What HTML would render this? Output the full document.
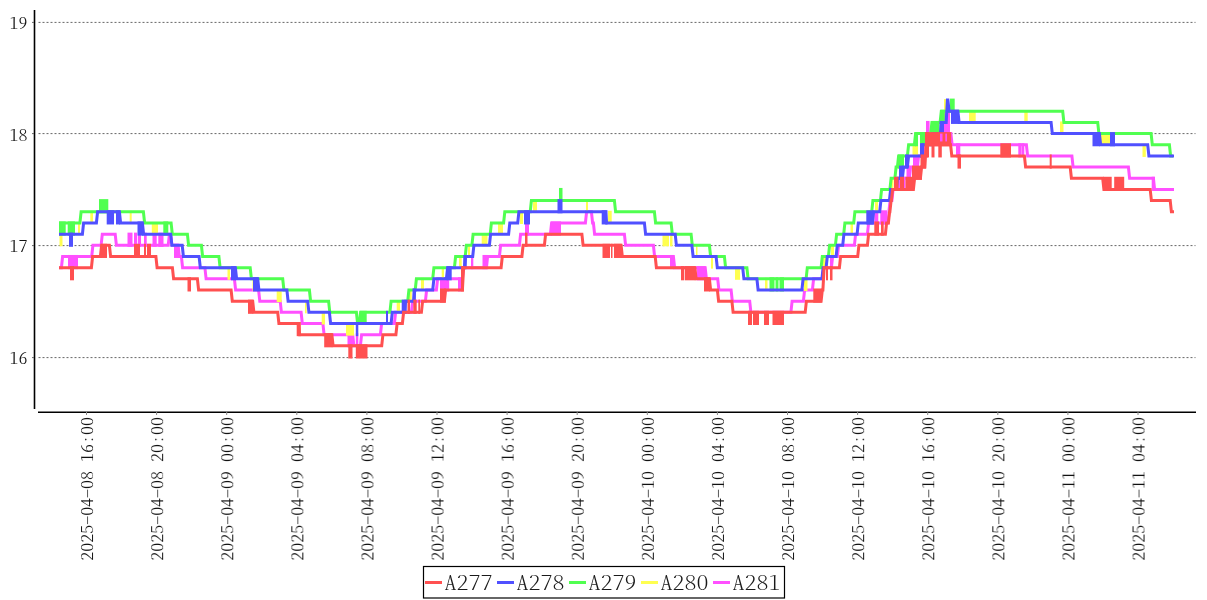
<!DOCTYPE html><html><head><meta charset="utf-8"><style>html,body{margin:0;padding:0;background:#fff;overflow:hidden}svg{display:block}</style></head><body><svg width="1207" height="600" viewBox="0 0 1207 600">
<rect width="1207" height="600" fill="#fff"/>
<line x1="38.5" y1="357.60" x2="1195.5" y2="357.60" stroke="#666" stroke-width="1" stroke-dasharray="2 2"/>
<line x1="38.5" y1="245.60" x2="1195.5" y2="245.60" stroke="#666" stroke-width="1" stroke-dasharray="2 2"/>
<line x1="38.5" y1="133.60" x2="1195.5" y2="133.60" stroke="#666" stroke-width="1" stroke-dasharray="2 2"/>
<line x1="38.5" y1="22.40" x2="1195.5" y2="22.40" stroke="#666" stroke-width="1" stroke-dasharray="2 2"/>
<line x1="34.5" y1="10" x2="34.5" y2="409" stroke="#000" stroke-width="1.6"/>
<line x1="38" y1="412.3" x2="1196" y2="412.3" stroke="#000" stroke-width="1.5"/>
<line x1="32" y1="357.60" x2="34" y2="357.60" stroke="#666" stroke-width="1"/>
<line x1="32" y1="245.60" x2="34" y2="245.60" stroke="#666" stroke-width="1"/>
<line x1="32" y1="133.60" x2="34" y2="133.60" stroke="#666" stroke-width="1"/>
<line x1="32" y1="22.40" x2="34" y2="22.40" stroke="#666" stroke-width="1"/>
<text transform="translate(9.5 363.50) scale(1 0.86)" font-size="18" font-family="Noto Serif CJK SC, Liberation Serif, serif" font-weight="300" fill="#111" style="font-feature-settings:'hwid';will-change:transform">16</text>
<text transform="translate(9.5 251.50) scale(1 0.86)" font-size="18" font-family="Noto Serif CJK SC, Liberation Serif, serif" font-weight="300" fill="#111" style="font-feature-settings:'hwid';will-change:transform">17</text>
<text transform="translate(9.5 140.60) scale(1 0.86)" font-size="18" font-family="Noto Serif CJK SC, Liberation Serif, serif" font-weight="300" fill="#111" style="font-feature-settings:'hwid';will-change:transform">18</text>
<text transform="translate(9.5 28.60) scale(1 0.86)" font-size="18" font-family="Noto Serif CJK SC, Liberation Serif, serif" font-weight="300" fill="#111" style="font-feature-settings:'hwid';will-change:transform">19</text>
<line x1="86.50" y1="411" x2="86.50" y2="415" stroke="#888" stroke-width="1"/>
<text transform="translate(93.10 417) rotate(-90) scale(1 0.86)" text-anchor="end" font-size="18" font-family="Noto Serif CJK SC, Liberation Serif, serif" font-weight="300" fill="#111" style="font-feature-settings:'hwid';will-change:transform">2025-04-08 16:00</text>
<line x1="156.60" y1="411" x2="156.60" y2="415" stroke="#888" stroke-width="1"/>
<text transform="translate(163.20 417) rotate(-90) scale(1 0.86)" text-anchor="end" font-size="18" font-family="Noto Serif CJK SC, Liberation Serif, serif" font-weight="300" fill="#111" style="font-feature-settings:'hwid';will-change:transform">2025-04-08 20:00</text>
<line x1="226.70" y1="411" x2="226.70" y2="415" stroke="#888" stroke-width="1"/>
<text transform="translate(233.30 417) rotate(-90) scale(1 0.86)" text-anchor="end" font-size="18" font-family="Noto Serif CJK SC, Liberation Serif, serif" font-weight="300" fill="#111" style="font-feature-settings:'hwid';will-change:transform">2025-04-09 00:00</text>
<line x1="296.80" y1="411" x2="296.80" y2="415" stroke="#888" stroke-width="1"/>
<text transform="translate(303.40 417) rotate(-90) scale(1 0.86)" text-anchor="end" font-size="18" font-family="Noto Serif CJK SC, Liberation Serif, serif" font-weight="300" fill="#111" style="font-feature-settings:'hwid';will-change:transform">2025-04-09 04:00</text>
<line x1="366.90" y1="411" x2="366.90" y2="415" stroke="#888" stroke-width="1"/>
<text transform="translate(373.50 417) rotate(-90) scale(1 0.86)" text-anchor="end" font-size="18" font-family="Noto Serif CJK SC, Liberation Serif, serif" font-weight="300" fill="#111" style="font-feature-settings:'hwid';will-change:transform">2025-04-09 08:00</text>
<line x1="437.00" y1="411" x2="437.00" y2="415" stroke="#888" stroke-width="1"/>
<text transform="translate(443.60 417) rotate(-90) scale(1 0.86)" text-anchor="end" font-size="18" font-family="Noto Serif CJK SC, Liberation Serif, serif" font-weight="300" fill="#111" style="font-feature-settings:'hwid';will-change:transform">2025-04-09 12:00</text>
<line x1="507.10" y1="411" x2="507.10" y2="415" stroke="#888" stroke-width="1"/>
<text transform="translate(513.70 417) rotate(-90) scale(1 0.86)" text-anchor="end" font-size="18" font-family="Noto Serif CJK SC, Liberation Serif, serif" font-weight="300" fill="#111" style="font-feature-settings:'hwid';will-change:transform">2025-04-09 16:00</text>
<line x1="577.20" y1="411" x2="577.20" y2="415" stroke="#888" stroke-width="1"/>
<text transform="translate(583.80 417) rotate(-90) scale(1 0.86)" text-anchor="end" font-size="18" font-family="Noto Serif CJK SC, Liberation Serif, serif" font-weight="300" fill="#111" style="font-feature-settings:'hwid';will-change:transform">2025-04-09 20:00</text>
<line x1="647.30" y1="411" x2="647.30" y2="415" stroke="#888" stroke-width="1"/>
<text transform="translate(653.90 417) rotate(-90) scale(1 0.86)" text-anchor="end" font-size="18" font-family="Noto Serif CJK SC, Liberation Serif, serif" font-weight="300" fill="#111" style="font-feature-settings:'hwid';will-change:transform">2025-04-10 00:00</text>
<line x1="717.40" y1="411" x2="717.40" y2="415" stroke="#888" stroke-width="1"/>
<text transform="translate(724.00 417) rotate(-90) scale(1 0.86)" text-anchor="end" font-size="18" font-family="Noto Serif CJK SC, Liberation Serif, serif" font-weight="300" fill="#111" style="font-feature-settings:'hwid';will-change:transform">2025-04-10 04:00</text>
<line x1="787.50" y1="411" x2="787.50" y2="415" stroke="#888" stroke-width="1"/>
<text transform="translate(794.10 417) rotate(-90) scale(1 0.86)" text-anchor="end" font-size="18" font-family="Noto Serif CJK SC, Liberation Serif, serif" font-weight="300" fill="#111" style="font-feature-settings:'hwid';will-change:transform">2025-04-10 08:00</text>
<line x1="857.60" y1="411" x2="857.60" y2="415" stroke="#888" stroke-width="1"/>
<text transform="translate(864.20 417) rotate(-90) scale(1 0.86)" text-anchor="end" font-size="18" font-family="Noto Serif CJK SC, Liberation Serif, serif" font-weight="300" fill="#111" style="font-feature-settings:'hwid';will-change:transform">2025-04-10 12:00</text>
<line x1="927.70" y1="411" x2="927.70" y2="415" stroke="#888" stroke-width="1"/>
<text transform="translate(934.30 417) rotate(-90) scale(1 0.86)" text-anchor="end" font-size="18" font-family="Noto Serif CJK SC, Liberation Serif, serif" font-weight="300" fill="#111" style="font-feature-settings:'hwid';will-change:transform">2025-04-10 16:00</text>
<line x1="997.80" y1="411" x2="997.80" y2="415" stroke="#888" stroke-width="1"/>
<text transform="translate(1004.40 417) rotate(-90) scale(1 0.86)" text-anchor="end" font-size="18" font-family="Noto Serif CJK SC, Liberation Serif, serif" font-weight="300" fill="#111" style="font-feature-settings:'hwid';will-change:transform">2025-04-10 20:00</text>
<line x1="1067.90" y1="411" x2="1067.90" y2="415" stroke="#888" stroke-width="1"/>
<text transform="translate(1074.50 417) rotate(-90) scale(1 0.86)" text-anchor="end" font-size="18" font-family="Noto Serif CJK SC, Liberation Serif, serif" font-weight="300" fill="#111" style="font-feature-settings:'hwid';will-change:transform">2025-04-11 00:00</text>
<line x1="1138.00" y1="411" x2="1138.00" y2="415" stroke="#888" stroke-width="1"/>
<text transform="translate(1144.60 417) rotate(-90) scale(1 0.86)" text-anchor="end" font-size="18" font-family="Noto Serif CJK SC, Liberation Serif, serif" font-weight="300" fill="#111" style="font-feature-settings:'hwid';will-change:transform">2025-04-11 04:00</text>
<g id="plot">
<path d="M59 267.64H61.40L62.60 256.47H91.70L92.90 245.30H101.10L102.30 234.13H115.20L116.40 245.30H168.20L169.40 234.13H170.70L171.90 245.30H178.10L179.30 256.47H181.40L182.60 267.64H204.90L206.10 278.81H234.40L235.60 289.98H258.60L259.80 301.15H280.20L281.40 312.32H301.10L302.30 323.49H322.90L324.10 334.66H352.70L353.90 345.83H360.40L361.60 334.66H380.40L381.60 323.49H394.40L395.60 312.32H411.40L412.60 301.15H425.40L426.60 289.98H436.40L437.60 278.81H462.40L463.60 267.64H486.40L487.60 256.47H499.40L500.60 245.30H519.40L520.60 234.13H550.40L551.60 222.96H585.40L586.60 211.79H591.40L592.60 222.96H593.40L594.60 234.13H624.40L625.60 245.30H653.40L654.60 256.47H673.40L674.60 267.64H705.20L706.40 278.81H717.70L718.90 289.98H731.10L732.30 301.15H749.70L750.90 312.32H790.90L792.10 301.15H803.40L804.60 289.98H812.40L813.60 278.81H822.40L823.60 267.64H831.40L832.60 256.47H837.40L838.60 245.30H854.40L855.60 234.13H867.40L868.60 222.96H887.90L889.10 211.79H888.90L890.10 200.62H891.90L893.10 189.45H897.40L898.60 178.28H909.40L910.60 167.11H917.40L918.60 155.94H923.40L924.60 133.60H950.90L952.10 144.77H1026.40L1027.60 155.94H1071.90L1073.10 167.11H1128.40L1129.60 178.28H1153.40L1154.60 189.45H1174" fill="none" stroke="#ff50ff" stroke-width="3"/>
<rect x="68" y="254.97" width="10.00" height="14.17" fill="#ff50ff"/>
<rect x="127.5" y="232.63" width="5.00" height="14.17" fill="#ff50ff"/>
<rect x="134" y="232.63" width="3.00" height="14.17" fill="#ff50ff"/>
<rect x="137.8" y="232.63" width="3.20" height="14.17" fill="#ff50ff"/>
<rect x="144" y="232.63" width="2.70" height="14.17" fill="#ff50ff"/>
<rect x="152.5" y="232.63" width="4.20" height="14.17" fill="#ff50ff"/>
<rect x="158.3" y="232.63" width="5.20" height="14.17" fill="#ff50ff"/>
<rect x="174" y="243.80" width="4.70" height="14.17" fill="#ff50ff"/>
<rect x="347.5" y="333.16" width="5.80" height="14.17" fill="#ff50ff"/>
<rect x="355.8" y="333.16" width="2.50" height="14.17" fill="#ff50ff"/>
<rect x="440" y="277.31" width="9.20" height="14.17" fill="#ff50ff"/>
<rect x="458" y="277.31" width="3.00" height="14.17" fill="#ff50ff"/>
<rect x="471" y="254.97" width="2.30" height="14.17" fill="#ff50ff"/>
<rect x="482.5" y="254.97" width="5.00" height="14.17" fill="#ff50ff"/>
<rect x="525" y="221.46" width="4.00" height="14.17" fill="#ff50ff"/>
<rect x="551" y="221.46" width="10.00" height="14.17" fill="#ff50ff"/>
<rect x="670" y="254.97" width="4.00" height="14.17" fill="#ff50ff"/>
<rect x="696.7" y="266.14" width="9.10" height="14.17" fill="#ff50ff"/>
<rect x="830" y="254.97" width="3.00" height="14.17" fill="#ff50ff"/>
<rect x="874.3" y="210.29" width="4.00" height="14.17" fill="#ff50ff"/>
<rect x="880.3" y="210.29" width="6.70" height="14.17" fill="#ff50ff"/>
<rect x="906.5" y="165.61" width="3.50" height="14.17" fill="#ff50ff"/>
<rect x="913" y="154.44" width="5.00" height="14.17" fill="#ff50ff"/>
<rect x="926" y="120.93" width="3.60" height="14.17" fill="#ff50ff"/>
<rect x="944" y="109.76" width="6.00" height="25.34" fill="#ff50ff"/>
<rect x="956" y="143.27" width="4.30" height="14.17" fill="#ff50ff"/>
<rect x="1018.3" y="143.27" width="3.40" height="14.17" fill="#ff50ff"/>
<rect x="1022" y="143.27" width="2.30" height="14.17" fill="#ff50ff"/>
<rect x="1151.7" y="176.78" width="3.30" height="14.17" fill="#ff50ff"/>
<rect x="898.5" y="176.78" width="1.50" height="14.17" fill="#ff50ff"/>
<rect x="904" y="176.78" width="1.50" height="14.17" fill="#ff50ff"/>
<rect x="59.5" y="233.13" width="3.00" height="13.17" fill="#ffff50"/>
<rect x="78" y="221.96" width="2.00" height="13.17" fill="#ffff50"/>
<rect x="90.3" y="210.79" width="2.70" height="13.17" fill="#ffff50"/>
<rect x="129.7" y="210.79" width="2.00" height="13.17" fill="#ffff50"/>
<rect x="151.8" y="221.96" width="6.20" height="13.17" fill="#ffff50"/>
<rect x="227.5" y="266.64" width="2.50" height="13.17" fill="#ffff50"/>
<rect x="252.5" y="277.81" width="1.50" height="13.17" fill="#ffff50"/>
<rect x="276.7" y="288.98" width="5.00" height="13.17" fill="#ffff50"/>
<rect x="305" y="300.15" width="1.70" height="13.17" fill="#ffff50"/>
<rect x="321.7" y="311.32" width="3.30" height="13.17" fill="#ffff50"/>
<rect x="346" y="322.49" width="8.00" height="13.17" fill="#ffff50"/>
<rect x="396.7" y="300.15" width="3.30" height="13.17" fill="#ffff50"/>
<rect x="409" y="288.98" width="2.70" height="13.17" fill="#ffff50"/>
<rect x="421" y="277.81" width="3.00" height="13.17" fill="#ffff50"/>
<rect x="441.7" y="266.64" width="2.30" height="13.17" fill="#ffff50"/>
<rect x="459" y="255.47" width="2.70" height="13.17" fill="#ffff50"/>
<rect x="468" y="244.30" width="2.00" height="13.17" fill="#ffff50"/>
<rect x="481.7" y="233.13" width="5.80" height="13.17" fill="#ffff50"/>
<rect x="498" y="221.96" width="5.00" height="13.17" fill="#ffff50"/>
<rect x="520" y="210.79" width="3.00" height="13.17" fill="#ffff50"/>
<rect x="533" y="199.62" width="4.00" height="13.17" fill="#ffff50"/>
<rect x="586" y="199.62" width="2.00" height="13.17" fill="#ffff50"/>
<rect x="608" y="210.79" width="3.70" height="13.17" fill="#ffff50"/>
<rect x="662.5" y="233.13" width="6.50" height="13.17" fill="#ffff50"/>
<rect x="670" y="233.13" width="2.50" height="13.17" fill="#ffff50"/>
<rect x="696" y="244.30" width="1.50" height="13.17" fill="#ffff50"/>
<rect x="711" y="255.47" width="2.00" height="13.17" fill="#ffff50"/>
<rect x="735" y="266.64" width="5.00" height="13.17" fill="#ffff50"/>
<rect x="765" y="277.81" width="2.50" height="13.17" fill="#ffff50"/>
<rect x="804" y="277.81" width="3.50" height="13.17" fill="#ffff50"/>
<rect x="823" y="255.47" width="3.00" height="13.17" fill="#ffff50"/>
<rect x="831" y="244.30" width="3.00" height="13.17" fill="#ffff50"/>
<rect x="850.5" y="221.96" width="2.50" height="13.17" fill="#ffff50"/>
<rect x="875" y="199.62" width="3.00" height="13.17" fill="#ffff50"/>
<rect x="891.5" y="177.28" width="2.00" height="13.17" fill="#ffff50"/>
<rect x="912.5" y="143.77" width="5.50" height="13.17" fill="#ffff50"/>
<rect x="944" y="99.09" width="2.00" height="13.17" fill="#ffff50"/>
<rect x="969" y="110.26" width="6.70" height="13.17" fill="#ffff50"/>
<rect x="1024.3" y="110.26" width="3.40" height="13.17" fill="#ffff50"/>
<rect x="1060" y="121.43" width="3.50" height="13.17" fill="#ffff50"/>
<rect x="1100" y="132.60" width="10.00" height="13.17" fill="#ffff50"/>
<rect x="1142.5" y="143.77" width="3.30" height="13.17" fill="#ffff50"/>
<path d="M59 222.96H79.90L81.10 211.79H143.40L144.60 222.96H171.10L172.30 234.13H187.40L188.60 245.30H201.40L202.60 256.47H218.90L220.10 267.64H250.20L251.40 278.81H282.70L283.90 289.98H309.40L310.60 301.15H328.60L329.80 312.32H356.40L357.60 323.49H359.40L360.60 312.32H389.90L391.10 301.15H407.70L408.90 289.98H415.20L416.40 278.81H432.70L433.90 267.64H454.40L455.60 256.47H465.20L466.40 245.30H471.90L473.10 234.13H490.20L491.40 222.96H503.60L504.80 211.79H530.20L531.40 200.62H614.40L615.60 211.79H654.40L655.60 222.96H671.10L672.30 234.13H691.10L692.30 245.30H709.40L710.60 256.47H724.40L725.60 267.64H746.90L748.10 278.81H806.10L807.30 267.64H821.10L822.30 256.47H828.40L829.60 245.30H835.40L836.60 234.13H843.70L844.90 222.96H853.70L854.90 211.79H871.70L872.90 200.62H880.40L881.60 189.45H889.90L891.10 178.28H894.90L896.10 167.11H897.40L898.60 155.94H907.40L908.60 144.77H914.40L915.60 133.60H930.70L931.90 122.43H940.10L941.30 111.26H1062.70L1063.90 122.43H1097.70L1098.90 133.60H1151.10L1152.30 144.77H1169.40L1170.60 155.94H1173" fill="none" stroke="#50ff50" stroke-width="3"/>
<rect x="59" y="221.46" width="6.70" height="14.17" fill="#50ff50"/>
<rect x="67.7" y="221.46" width="7.30" height="14.17" fill="#50ff50"/>
<rect x="99" y="199.12" width="9.30" height="14.17" fill="#50ff50"/>
<rect x="163.3" y="221.46" width="5.00" height="14.17" fill="#50ff50"/>
<rect x="360" y="310.82" width="6.70" height="14.17" fill="#50ff50"/>
<rect x="559" y="187.95" width="3.50" height="14.17" fill="#50ff50"/>
<rect x="769.5" y="277.31" width="5.00" height="14.17" fill="#50ff50"/>
<rect x="775.5" y="277.31" width="3.00" height="14.17" fill="#50ff50"/>
<rect x="779.5" y="277.31" width="4.50" height="14.17" fill="#50ff50"/>
<rect x="898" y="154.44" width="6.00" height="14.17" fill="#50ff50"/>
<rect x="915" y="132.10" width="3.00" height="14.17" fill="#50ff50"/>
<rect x="920" y="132.10" width="5.50" height="14.17" fill="#50ff50"/>
<rect x="931.3" y="120.93" width="8.20" height="14.17" fill="#50ff50"/>
<rect x="940.7" y="109.76" width="4.10" height="14.17" fill="#50ff50"/>
<rect x="950" y="98.59" width="4.70" height="14.17" fill="#50ff50"/>
<path d="M59 234.13H82.40L83.60 222.96H96.40L97.60 211.79H119.40L120.60 222.96H142.40L143.60 234.13H170.70L171.90 245.30H182.20L183.40 256.47H199.10L200.30 267.64H235.40L236.60 278.81H257.70L258.90 289.98H286.90L288.10 301.15H307.70L308.90 312.32H329.40L330.60 323.49H391.10L392.30 312.32H404.40L405.60 301.15H413.60L414.80 289.98H432.70L433.90 278.81H446.40L447.60 267.64H464.40L465.60 256.47H472.70L473.90 245.30H489.40L490.60 234.13H508.60L509.80 222.96H517.70L518.90 211.79H605.40L606.60 222.96H644.40L645.60 234.13H675.20L676.40 245.30H691.90L693.10 256.47H716.10L717.30 267.64H742.70L743.90 278.81H756.90L758.10 289.98H801.90L803.10 278.81H821.90L823.10 267.64H826.10L827.30 256.47H836.10L837.30 245.30H842.70L843.90 234.13H857.10L858.30 222.96H872.40L873.60 211.79H879.70L880.90 200.62H889.40L890.60 189.45H896.40L897.60 178.28H902.40L903.60 167.11H907.40L908.60 155.94H921.40L922.60 144.77H931.40L932.60 133.60H940.40L941.60 122.43H946.20L947.40 100.09H947.90L949.10 111.26H957.90L959.10 122.43H1051.10L1052.30 133.60H1099.40L1100.60 144.77H1147.70L1148.90 155.94H1174" fill="none" stroke="#5050ff" stroke-width="3"/>
<rect x="69" y="232.63" width="4.00" height="14.17" fill="#5050ff"/>
<rect x="106.7" y="210.29" width="7.30" height="14.17" fill="#5050ff"/>
<rect x="116" y="210.29" width="4.00" height="14.17" fill="#5050ff"/>
<rect x="137.5" y="221.46" width="5.80" height="14.17" fill="#5050ff"/>
<rect x="231" y="266.14" width="5.00" height="14.17" fill="#5050ff"/>
<rect x="253" y="277.31" width="5.30" height="14.17" fill="#5050ff"/>
<rect x="355.8" y="321.99" width="2.50" height="14.17" fill="#5050ff"/>
<rect x="386" y="310.82" width="2.00" height="14.17" fill="#5050ff"/>
<rect x="401.7" y="299.65" width="5.00" height="14.17" fill="#5050ff"/>
<rect x="412.5" y="288.48" width="3.30" height="14.17" fill="#5050ff"/>
<rect x="446.7" y="266.14" width="5.00" height="14.17" fill="#5050ff"/>
<rect x="463.3" y="254.97" width="3.40" height="14.17" fill="#5050ff"/>
<rect x="524" y="210.29" width="6.00" height="14.17" fill="#5050ff"/>
<rect x="557.5" y="199.12" width="5.00" height="14.17" fill="#5050ff"/>
<rect x="601.7" y="210.29" width="5.80" height="14.17" fill="#5050ff"/>
<rect x="866.3" y="210.29" width="7.40" height="14.17" fill="#5050ff"/>
<rect x="889" y="187.95" width="3.30" height="14.17" fill="#5050ff"/>
<rect x="899" y="165.61" width="4.00" height="14.17" fill="#5050ff"/>
<rect x="905" y="154.44" width="3.00" height="14.17" fill="#5050ff"/>
<rect x="920" y="143.27" width="4.00" height="14.17" fill="#5050ff"/>
<rect x="939.5" y="120.93" width="4.50" height="14.17" fill="#5050ff"/>
<rect x="951" y="109.76" width="7.80" height="14.17" fill="#5050ff"/>
<rect x="1092.5" y="132.10" width="7.50" height="14.17" fill="#5050ff"/>
<rect x="1110" y="132.10" width="5.00" height="14.17" fill="#5050ff"/>
<path d="M59 267.64H91.40L92.60 256.47H100.40L101.60 245.30H109.40L110.60 256.47H155.90L157.10 267.64H172.40L173.60 278.81H197.40L198.60 289.98H231.10L232.30 301.15H252.70L253.90 312.32H277.70L278.90 323.49H298.40L299.60 334.66H331.90L333.10 345.83H381.70L382.90 334.66H395.90L397.10 323.49H402.40L403.60 312.32H421.40L422.60 301.15H444.40L445.60 289.98H462.40L463.60 267.64H501.10L502.30 256.47H521.90L523.10 245.30H544.40L545.60 234.13H581.90L583.10 245.30H621.10L622.30 256.47H655.20L656.40 267.64H694.90L696.10 278.81H709.40L710.60 289.98H717.40L718.60 301.15H731.90L733.10 312.32H805.20L806.40 301.15H821.10L822.30 289.98H822.90L824.10 267.64H839.40L840.60 256.47H857.70L858.90 245.30H867.40L868.60 234.13H885.40L886.60 222.96H888.40L889.60 211.79H889.90L891.10 200.62H891.40L892.60 189.45H913.40L914.60 178.28H920.40L921.60 167.11H924.90L926.10 144.77H950.60L951.80 155.94H1024.40L1025.60 167.11H1070.20L1071.40 178.28H1102.70L1103.90 189.45H1150.20L1151.40 200.62H1170.20L1171.40 211.79H1174" fill="none" stroke="#ff5050" stroke-width="3"/>
<rect x="70" y="266.14" width="4.00" height="14.17" fill="#ff5050"/>
<rect x="101" y="243.80" width="6.00" height="14.17" fill="#ff5050"/>
<rect x="134" y="243.80" width="6.00" height="14.17" fill="#ff5050"/>
<rect x="144" y="243.80" width="2.00" height="14.17" fill="#ff5050"/>
<rect x="147" y="243.80" width="4.00" height="14.17" fill="#ff5050"/>
<rect x="187.5" y="277.31" width="3.50" height="14.17" fill="#ff5050"/>
<rect x="248" y="299.65" width="5.30" height="14.17" fill="#ff5050"/>
<rect x="296.7" y="321.99" width="4.10" height="14.17" fill="#ff5050"/>
<rect x="324.2" y="333.16" width="8.30" height="14.17" fill="#ff5050"/>
<rect x="348.3" y="344.33" width="4.20" height="14.17" fill="#ff5050"/>
<rect x="355.8" y="344.33" width="11.70" height="14.17" fill="#ff5050"/>
<rect x="407.5" y="299.65" width="2.50" height="14.17" fill="#ff5050"/>
<rect x="413.3" y="299.65" width="3.40" height="14.17" fill="#ff5050"/>
<rect x="418.3" y="299.65" width="1.70" height="14.17" fill="#ff5050"/>
<rect x="440" y="288.48" width="5.80" height="14.17" fill="#ff5050"/>
<rect x="461" y="266.14" width="3.00" height="25.34" fill="#ff5050"/>
<rect x="525" y="232.63" width="2.50" height="14.17" fill="#ff5050"/>
<rect x="602.5" y="243.80" width="7.50" height="14.17" fill="#ff5050"/>
<rect x="611" y="243.80" width="1.50" height="14.17" fill="#ff5050"/>
<rect x="614" y="243.80" width="7.70" height="14.17" fill="#ff5050"/>
<rect x="681" y="266.14" width="3.00" height="14.17" fill="#ff5050"/>
<rect x="684.7" y="266.14" width="10.80" height="14.17" fill="#ff5050"/>
<rect x="704" y="277.31" width="6.00" height="14.17" fill="#ff5050"/>
<rect x="748" y="310.82" width="4.00" height="14.17" fill="#ff5050"/>
<rect x="753" y="310.82" width="6.00" height="14.17" fill="#ff5050"/>
<rect x="764" y="310.82" width="5.00" height="14.17" fill="#ff5050"/>
<rect x="772.5" y="310.82" width="11.50" height="14.17" fill="#ff5050"/>
<rect x="813.3" y="288.48" width="8.40" height="14.17" fill="#ff5050"/>
<rect x="826" y="266.14" width="2.00" height="14.17" fill="#ff5050"/>
<rect x="830" y="266.14" width="2.50" height="14.17" fill="#ff5050"/>
<rect x="874.3" y="221.46" width="4.70" height="14.17" fill="#ff5050"/>
<rect x="881" y="221.46" width="2.70" height="14.17" fill="#ff5050"/>
<rect x="894" y="176.78" width="4.50" height="14.17" fill="#ff5050"/>
<rect x="900" y="176.78" width="4.00" height="14.17" fill="#ff5050"/>
<rect x="905.5" y="176.78" width="8.50" height="14.17" fill="#ff5050"/>
<rect x="912" y="165.61" width="10.00" height="14.17" fill="#ff5050"/>
<rect x="920.5" y="154.44" width="5.50" height="14.17" fill="#ff5050"/>
<rect x="925" y="132.10" width="3.00" height="25.34" fill="#ff5050"/>
<rect x="925.5" y="132.10" width="25.70" height="14.17" fill="#ff5050"/>
<rect x="926.7" y="143.27" width="2.30" height="14.17" fill="#ff5050"/>
<rect x="931.5" y="143.27" width="3.00" height="14.17" fill="#ff5050"/>
<rect x="938.3" y="143.27" width="3.50" height="14.17" fill="#ff5050"/>
<rect x="957.5" y="154.44" width="3.50" height="14.17" fill="#ff5050"/>
<rect x="1000.3" y="143.27" width="10.70" height="14.17" fill="#ff5050"/>
<rect x="1049.7" y="154.44" width="2.00" height="14.17" fill="#ff5050"/>
<rect x="1103.3" y="176.78" width="8.40" height="14.17" fill="#ff5050"/>
<rect x="1114.2" y="176.78" width="10.00" height="14.17" fill="#ff5050"/>
<rect x="940" y="133.60" width="2.50" height="7.82" fill="#ff50ff"/>
<rect x="945.3" y="133.60" width="1.70" height="7.82" fill="#ff50ff"/>
</g>
<rect x="423.5" y="566.5" width="361" height="31.5" fill="none" stroke="#000" stroke-width="1.2"/>
<line x1="425" y1="582.5" x2="442" y2="582.5" stroke="#ff5050" stroke-width="3"/>
<text transform="translate(444.5 590) scale(1 0.8)" font-size="24" font-family="Noto Serif CJK SC, Liberation Serif, serif" font-weight="200" fill="#1a1a1a" style="font-feature-settings:'hwid';will-change:transform">A277</text>
<line x1="497" y1="582.5" x2="514" y2="582.5" stroke="#5050ff" stroke-width="3"/>
<text transform="translate(516.5 590) scale(1 0.8)" font-size="24" font-family="Noto Serif CJK SC, Liberation Serif, serif" font-weight="200" fill="#1a1a1a" style="font-feature-settings:'hwid';will-change:transform">A278</text>
<line x1="569" y1="582.5" x2="586" y2="582.5" stroke="#50ff50" stroke-width="3"/>
<text transform="translate(588.5 590) scale(1 0.8)" font-size="24" font-family="Noto Serif CJK SC, Liberation Serif, serif" font-weight="200" fill="#1a1a1a" style="font-feature-settings:'hwid';will-change:transform">A279</text>
<line x1="641" y1="582.5" x2="658" y2="582.5" stroke="#ffff50" stroke-width="3"/>
<text transform="translate(660.5 590) scale(1 0.8)" font-size="24" font-family="Noto Serif CJK SC, Liberation Serif, serif" font-weight="200" fill="#1a1a1a" style="font-feature-settings:'hwid';will-change:transform">A280</text>
<line x1="713" y1="582.5" x2="730" y2="582.5" stroke="#ff50ff" stroke-width="3"/>
<text transform="translate(732.5 590) scale(1 0.8)" font-size="24" font-family="Noto Serif CJK SC, Liberation Serif, serif" font-weight="200" fill="#1a1a1a" style="font-feature-settings:'hwid';will-change:transform">A281</text>
</svg></body></html>
